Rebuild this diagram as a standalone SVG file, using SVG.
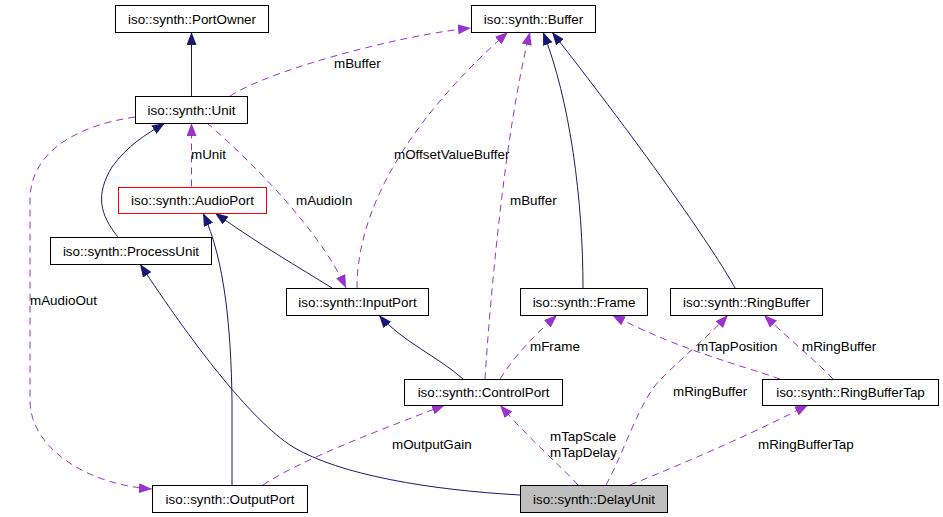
<svg xmlns="http://www.w3.org/2000/svg" width="943" height="517" viewBox="0 0 943 517">
<style>
.box{fill:#fff;stroke:#000;stroke-width:1}
.t{font-family:"Liberation Sans",Arial,sans-serif;font-size:13.4px;fill:#000}
.c{text-anchor:middle}
.inh{fill:none;stroke:#191970;stroke-width:1}
.use{fill:none;stroke:#9a32cd;stroke-width:1;stroke-dasharray:7,5}
</style>
<defs>
<marker id="an" markerUnits="userSpaceOnUse" markerWidth="14" markerHeight="11" refX="13" refY="5" orient="auto"><path d="M0,0 L13,5 L0,10 z" fill="#191970"/></marker>
<marker id="ap" markerUnits="userSpaceOnUse" markerWidth="14" markerHeight="11" refX="13" refY="5" orient="auto"><path d="M0,0 L13,5 L0,10 z" fill="#9a32cd"/></marker>
</defs>
<rect width="943" height="517" fill="#fff"/>
<g id="edges">
<path class="inh" marker-end="url(#an)" d="M191.5,96.5 L191.5,32"/>
<path class="use" marker-end="url(#ap)" d="M230,96 C270,70 400,35 471,28"/>
<path class="use" marker-end="url(#ap)" d="M191.5,186.5 L191.5,123"/>
<path class="inh" marker-end="url(#an)" d="M118,237 C100,215 95,195 112,167 C128,145 145,135 165,123"/>
<path class="inh" marker-end="url(#an)" d="M332,288 C300,268 260,245 215,213"/>
<path class="inh" marker-end="url(#an)" d="M232,485 L232,400 C231,330 225,260 203,213"/>
<path class="inh" marker-end="url(#an)" d="M520,495 C430,490 340,475 293,447 C250,420 190,340 140,264"/>
<path class="use" marker-end="url(#ap)" d="M135,117 C80,125 30,150 30,200 L30,400 C30,450 90,485 152,489"/>
<path class="use" marker-end="url(#ap)" d="M207,123 C250,160 320,230 346,288"/>
<path class="use" marker-end="url(#ap)" d="M357,288 C357,200 420,110 508,32"/>
<path class="use" marker-end="url(#ap)" d="M485,379 C490,300 505,130 530,32"/>
<path class="inh" marker-end="url(#an)" d="M583,288 C583,200 570,100 543,32"/>
<path class="inh" marker-end="url(#an)" d="M735,288 C720,260 660,170 552,32"/>
<path class="inh" marker-end="url(#an)" d="M463,379 C440,358 400,340 379,315"/>
<path class="use" marker-end="url(#ap)" d="M500,379 C515,355 535,335 557,315"/>
<path class="use" marker-end="url(#ap)" d="M780,379 C740,365 680,350 612,315"/>
<path class="use" marker-end="url(#ap)" d="M833,379 C815,360 790,340 764,315"/>
<path class="use" marker-end="url(#ap)" d="M606,485 C625,450 640,400 660,380 C690,350 710,335 728,315"/>
<path class="use" marker-end="url(#ap)" d="M578,485 C560,465 530,440 500,405"/>
<path class="use" marker-end="url(#ap)" d="M630,485 C680,465 750,435 808,405"/>
<path class="use" marker-end="url(#ap)" d="M263,485 C300,460 380,430 445,405"/>
<text class="t" x="334" y="68">mBuffer</text>
<text class="t" x="191" y="159">mUnit</text>
<text class="t" x="30" y="305">mAudioOut</text>
<text class="t" x="296" y="205">mAudioIn</text>
<text class="t" x="394" y="159">mOffsetValueBuffer</text>
<text class="t" x="510" y="205">mBuffer</text>
<text class="t" x="530" y="351">mFrame</text>
<text class="t" x="697" y="351">mTapPosition</text>
<text class="t" x="802" y="351">mRingBuffer</text>
<text class="t" x="673" y="396">mRingBuffer</text>
<text class="t" x="550" y="441">mTapScale</text>
<text class="t" x="550" y="457">mTapDelay</text>
<text class="t" x="758" y="449">mRingBufferTap</text>
<text class="t" x="392" y="449">mOutputGain</text>
</g>
<g id="PortOwner"><rect class="box" x="115.5" y="5.5" width="153" height="27"/><text class="t c" x="192" y="24">iso::synth::PortOwner</text></g>
<g id="Buffer"><rect class="box" x="471.5" y="5.5" width="124" height="27"/><text class="t c" x="533.5" y="24">iso::synth::Buffer</text></g>
<g id="Unit"><rect class="box" x="135.5" y="96.5" width="112" height="27"/><text class="t c" x="191.5" y="115">iso::synth::Unit</text></g>
<g id="AudioPort"><rect x="118.5" y="187.5" width="148" height="26" fill="#fff" stroke="#ff0000"/><text class="t c" x="192.5" y="205">iso::synth::AudioPort</text></g>
<g id="ProcessUnit"><rect class="box" x="50.5" y="237.5" width="161" height="27"/><text class="t c" x="131" y="256">iso::synth::ProcessUnit</text></g>
<g id="InputPort"><rect class="box" x="286.5" y="288.5" width="142" height="27"/><text class="t c" x="357.5" y="307">iso::synth::InputPort</text></g>
<g id="Frame"><rect class="box" x="520.5" y="288.5" width="127" height="27"/><text class="t c" x="584" y="307">iso::synth::Frame</text></g>
<g id="RingBuffer"><rect class="box" x="670.5" y="288.5" width="152" height="27"/><text class="t c" x="746.5" y="307">iso::synth::RingBuffer</text></g>
<g id="ControlPort"><rect class="box" x="404.5" y="379.5" width="158" height="26"/><text class="t c" x="483.5" y="397">iso::synth::ControlPort</text></g>
<g id="RingBufferTap"><rect class="box" x="762.5" y="379.5" width="176" height="26"/><text class="t c" x="850.5" y="397">iso::synth::RingBufferTap</text></g>
<g id="OutputPort"><rect class="box" x="152.5" y="485.5" width="155" height="27"/><text class="t c" x="230" y="504">iso::synth::OutputPort</text></g>
<g id="DelayUnit"><rect x="520.5" y="485.5" width="147" height="27" fill="#bfbfbf" stroke="#000"/><text class="t c" x="594" y="504">iso::synth::DelayUnit</text></g>
</svg>
